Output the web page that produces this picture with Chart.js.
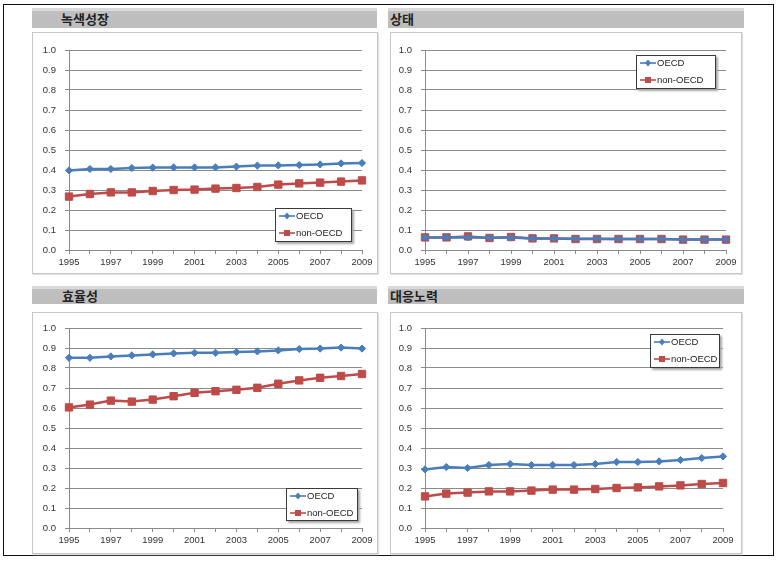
<!DOCTYPE html>
<html><head><meta charset="utf-8">
<script src="https://cdn.jsdelivr.net/npm/chart.js@4.4.1/dist/chart.umd.min.js"></script>
<style>
html,body{margin:0;padding:0}
body{width:779px;height:563px;background:#fff;position:relative;overflow:hidden;font-family:"Noto Sans CJK KR",sans-serif}
#frame{position:absolute;left:3px;top:4px;width:771px;height:552px;border:1.5px solid #111;box-sizing:border-box}
.hdr{position:absolute;background:linear-gradient(#dadada 0,#dadada 3px,#bfbfbf 3px,#bdbdbd 100%);font-weight:bold;font-size:13px;color:#222;box-sizing:border-box;white-space:nowrap}
.box{position:absolute;border:1px solid #c6c6c6;box-shadow:1px 1px 1px #e2e2e2;background:#fff}
.box canvas{position:absolute;left:0;top:0}
.leg{position:absolute;border:1px solid #3a3a3a;background:#fff;box-shadow:2px 2px 2px #a8a8a8;font-family:"Liberation Sans",Arial,sans-serif;font-size:9.5px;color:#222;box-sizing:border-box}
.row{position:absolute;left:3px;height:12px;line-height:12px;white-space:nowrap}
.row svg{vertical-align:top;margin-right:1px}
</style>
</head><body>
<div id="frame"></div>
<script>
// ---- data ----
const years = ['1995','1996','1997','1998','1999','2000','2001','2002','2003','2004','2005','2006','2007','2008','2009'];
const seriesNames = ['OECD', 'non-OECD'];
const panelTitles = ['녹색성장', '상태', '효율성', '대응노력'];

const greenGrowthOECD    = [0.398,0.405,0.405,0.410,0.412,0.413,0.413,0.413,0.417,0.422,0.423,0.425,0.428,0.433,0.435];
const greenGrowthNonOECD = [0.267,0.280,0.288,0.288,0.295,0.300,0.302,0.307,0.310,0.315,0.327,0.333,0.337,0.342,0.348];

const statusOECD    = [0.062,0.063,0.064,0.061,0.062,0.058,0.058,0.056,0.056,0.055,0.055,0.055,0.052,0.052,0.052];
const statusNonOECD = [0.063,0.063,0.068,0.060,0.065,0.058,0.058,0.055,0.055,0.055,0.055,0.055,0.052,0.052,0.052];

const efficiencyOECD    = [0.851,0.851,0.858,0.863,0.868,0.873,0.876,0.876,0.880,0.883,0.888,0.895,0.897,0.902,0.897];
const efficiencyNonOECD = [0.603,0.617,0.637,0.632,0.642,0.659,0.676,0.684,0.691,0.701,0.721,0.738,0.751,0.760,0.770];

const responseOECD    = [0.293,0.305,0.300,0.315,0.320,0.315,0.315,0.315,0.320,0.330,0.330,0.333,0.340,0.350,0.358];
const responseNonOECD = [0.158,0.172,0.177,0.183,0.183,0.187,0.192,0.192,0.195,0.200,0.203,0.208,0.213,0.220,0.225];

const yMin = 0, yMax = 1, yStep = 0.1;

// ---- layout / style ----
const OECD_COLOR = '#4A7EBB';
const NON_COLOR = '#BE4B48';

const panels = [
  {title: panelTitles[0], hdr:{x:32,y:8,w:345,h:20,tl:29}, box:{x:32,y:32,w:346,h:242}, m:{l:36,r:15,t:17,b:23},
   leg:{x:275,y:208,w:77,h:34}, a: greenGrowthOECD, b: greenGrowthNonOECD},
  {title: panelTitles[1], hdr:{x:388,y:8,w:356,h:20,tl:2}, box:{x:390,y:32,w:352,h:242}, m:{l:34,r:15,t:17,b:23},
   leg:{x:636,y:55,w:80,h:34}, a: statusOECD, b: statusNonOECD},
  {title: panelTitles[2], hdr:{x:32,y:286,w:345,h:18,tl:30}, box:{x:32,y:312,w:346,h:242}, m:{l:36,r:15,t:15,b:25},
   leg:{x:286,y:488,w:72,h:33}, a: efficiencyOECD, b: efficiencyNonOECD},
  {title: panelTitles[3], hdr:{x:388,y:286,w:356,h:18,tl:2}, box:{x:390,y:312,w:352,h:242}, m:{l:34,r:18,t:15,b:25},
   leg:{x:650,y:334,w:70,h:34}, a: responseOECD, b: responseNonOECD}
];

function sample(color, shape){
  let mk = shape === 'diamond'
    ? '<path d="M8 2.5 L11 6 L8 9.5 L5 6 Z" fill="'+color+'"/>'
    : '<rect x="5" y="3" width="6" height="6" fill="'+color+'"/>';
  return '<svg width="16" height="12"><line x1="0" y1="6" x2="16" y2="6" stroke="'+color+'" stroke-width="1.6"/>'+mk+'</svg>';
}

const tickFont = {family:'"Liberation Sans", Arial, sans-serif', size: 9.5};

panels.forEach((p, i) => {
  const h = document.createElement('div');
  h.className = 'hdr';
  Object.assign(h.style, {left:p.hdr.x+'px', top:p.hdr.y+'px', width:p.hdr.w+'px', height:p.hdr.h+'px',
    lineHeight:(p.hdr.h+1)+'px', paddingLeft:p.hdr.tl+'px'});
  h.textContent = p.title;
  document.body.appendChild(h);

  const b = document.createElement('div');
  b.className = 'box';
  Object.assign(b.style, {left:p.box.x+'px', top:p.box.y+'px', width:(p.box.w-2)+'px', height:(p.box.h-2)+'px'});
  const c = document.createElement('canvas');
  c.width = p.box.w-2; c.height = p.box.h-2;
  c.style.width = c.width+'px'; c.style.height = c.height+'px';
  b.appendChild(c);
  document.body.appendChild(b);

  const lg = document.createElement('div');
  lg.className = 'leg';
  Object.assign(lg.style, {left:p.leg.x+'px', top:p.leg.y+'px', width:p.leg.w+'px', height:p.leg.h+'px'});
  lg.innerHTML = '<div class="row" style="top:1px">'+sample(OECD_COLOR,'diamond')+seriesNames[0]+'</div>'+
                 '<div class="row" style="top:18px">'+sample(NON_COLOR,'square')+seriesNames[1]+'</div>';
  document.body.appendChild(lg);

  new Chart(c, {
    type: 'line',
    data: {
      labels: years,
      datasets: [
        {label: seriesNames[0], data: p.a, borderColor: OECD_COLOR, backgroundColor: OECD_COLOR,
         borderWidth: 2.5, pointStyle: 'rectRot', pointRadius: 3.6, pointBorderWidth: 1, tension: 0},
        {label: seriesNames[1], data: p.b, borderColor: NON_COLOR, backgroundColor: NON_COLOR,
         borderWidth: 2.5, pointStyle: 'rect', pointRadius: 5.2, pointBorderWidth: 1, tension: 0}
      ]
    },
    options: {
      responsive: false,
      animation: false,
      events: [],
      layout: {padding: {left: 0, right: p.m.r, top: p.m.t, bottom: 0}},
      plugins: {legend: {display: false}, tooltip: {enabled: false}, title: {display: false}},
      scales: {
        x: {
          offset: false,
          grid: {display: true, drawOnChartArea: false, drawTicks: true, tickLength: 4, color: '#8a8a8a'},
          border: {display: true, color: '#8a8a8a', width: 1},
          ticks: {autoSkip: false, maxRotation: 0, padding: 3, color: '#333', font: tickFont,
                  callback: function(v, idx){ return idx % 2 === 0 ? years[idx] : ''; }},
          afterFit: s => { s.height = p.m.b; }
        },
        y: {
          min: yMin, max: yMax,
          grid: {display: true, drawOnChartArea: true, drawTicks: true, tickLength: 4, color: '#8a8a8a', lineWidth: 1},
          border: {display: true, color: '#8a8a8a', width: 1},
          ticks: {stepSize: yStep, padding: 9, color: '#333', font: tickFont,
                  callback: v => Number(v).toFixed(1)},
          afterFit: s => { s.width = p.m.l; }
        }
      }
    }
  });
});
</script>
</body></html>
